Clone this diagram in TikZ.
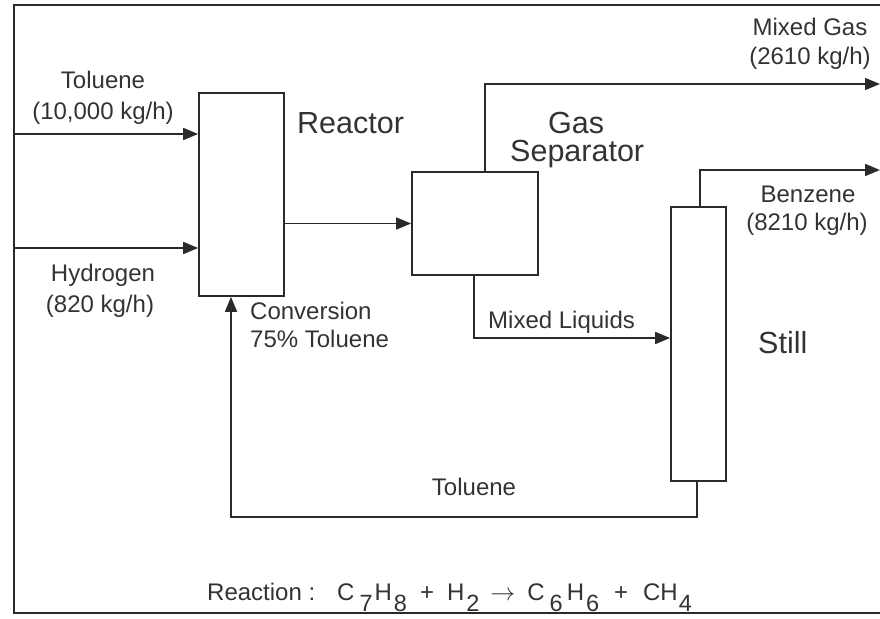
\documentclass[tikz,border=0pt]{standalone}
\usepackage{fontspec}
\setmainfont{Liberation Sans}
\usetikzlibrary{arrows.meta,calc}
\definecolor{lc}{HTML}{2A2A2A}
\definecolor{tc}{HTML}{333333}
\newcommand{\mysb}[1]{\raisebox{-11pt}{\fontsize{23.5}{24}\selectfont #1}}
\begin{document}
\begin{tikzpicture}[x=1pt,y=-1pt,
  unit/.style={draw=lc, line width=1.7pt, inner sep=0pt, fill=white},
  flow/.style={draw=lc, line width=1.7pt, -{Triangle[length=15pt,width=12pt]}},
  pipe/.style={draw=lc, line width=1.7pt},
  lbl/.style={text=tc, inner sep=0pt, font=\fontsize{24}{30}\selectfont},
  big/.style={text=tc, inner sep=0pt, font=\fontsize{30.5}{34}\selectfont}]
\useasboundingbox (0,0) rectangle (880,618);
% frame
\coordinate (ftr) at (880,5);
\coordinate (ftl) at (14,5);
\coordinate (fbl) at (14,613);
\coordinate (fbr) at (880,613);
\draw[pipe] (ftr) -- (ftl) -- (fbl) -- (fbr);
% units
\node[unit, minimum width=85pt, minimum height=203pt] (rx) at (241.5,194.5) {};
\node[unit, minimum width=126pt, minimum height=103pt] (sep) at (475,223.5) {};
\node[unit, minimum width=55pt, minimum height=274pt] (still) at (698.5,344) {};
% feeds
\coordinate (tin) at (14,134);
\coordinate (hin) at (14,248);
\draw[flow] (tin) -- (tin -| rx.west);
\draw[flow] (hin) -- (hin -| rx.west);
% reactor to separator
\draw[flow] (rx.east |- sep.west) -- (sep.west);
% mixed gas
\coordinate (mgx) at (485,84);
\coordinate (mgout) at (880,84);
\draw[flow] (sep.north -| mgx) -- (mgx) -- (mgout);
% mixed liquids
\coordinate (mlx) at (474,338);
\draw[flow] (sep.south -| mlx) -- (mlx) -- (mlx -| still.west);
% benzene
\coordinate (bzx) at (700,170);
\coordinate (bzout) at (880,170);
\draw[flow] (still.north -| bzx) -- (bzx) -- (bzout);
% recycle
\coordinate (rcr) at (697,517);
\coordinate (rcl) at (231,517);
\draw[flow] (still.south -| rcr) -- (rcr) -- (rcl) -- (rcl |- rx.south);
% labels
\node[lbl, anchor=base] (l1) at (103,88) {Toluene};
\node[lbl, anchor=base] (l2) at (103,119) {(10,000 kg/h)};
\node[lbl, anchor=base] (l3) at (103,281) {Hydrogen};
\node[lbl, anchor=base] (l4) at (100,312) {(820 kg/h)};
\node[big, anchor=base west] (l5) at (297,133) {Reactor};
\node[big, anchor=base west] (l6) at (548,133) {Gas};
\node[big, anchor=base west] (l7) at (510,161) {Separator};
\node[lbl, anchor=base] (l8) at (810,36) {Mixed Gas};
\node[lbl, anchor=base] (l9) at (810,64) {(2610 kg/h)};
\node[lbl, anchor=base] (l10) at (808,202) {Benzene};
\node[lbl, anchor=base] (l11) at (807,230) {(8210 kg/h)};
\node[big, anchor=base west] (l12) at (758,353) {Still};
\node[lbl, anchor=base west] (l13) at (250,319) {Conversion};
\node[lbl, anchor=base west] (l14) at (250,347) {75\% Toluene};
\node[lbl, anchor=base west] (l15) at (488,328) {Mixed Liquids};
\node[lbl, anchor=base] (l16) at (474,495) {Toluene};
\node[lbl, anchor=base west] (l17) at (207,600) {Reaction :\hspace{22pt}C\hspace{5pt}\mysb{7}\hspace{2pt}H\hspace{2pt}\mysb{8}\hspace{13pt}+\hspace{13pt}H\hspace{2pt}\mysb{2}\hspace{11pt}$\rightarrow$\hspace{12pt}C\hspace{5pt}\mysb{6}\hspace{4pt}H\hspace{2pt}\mysb{6}\hspace{15pt}+\hspace{15pt}CH\hspace{1pt}\mysb{4}};
\end{tikzpicture}
\end{document}
